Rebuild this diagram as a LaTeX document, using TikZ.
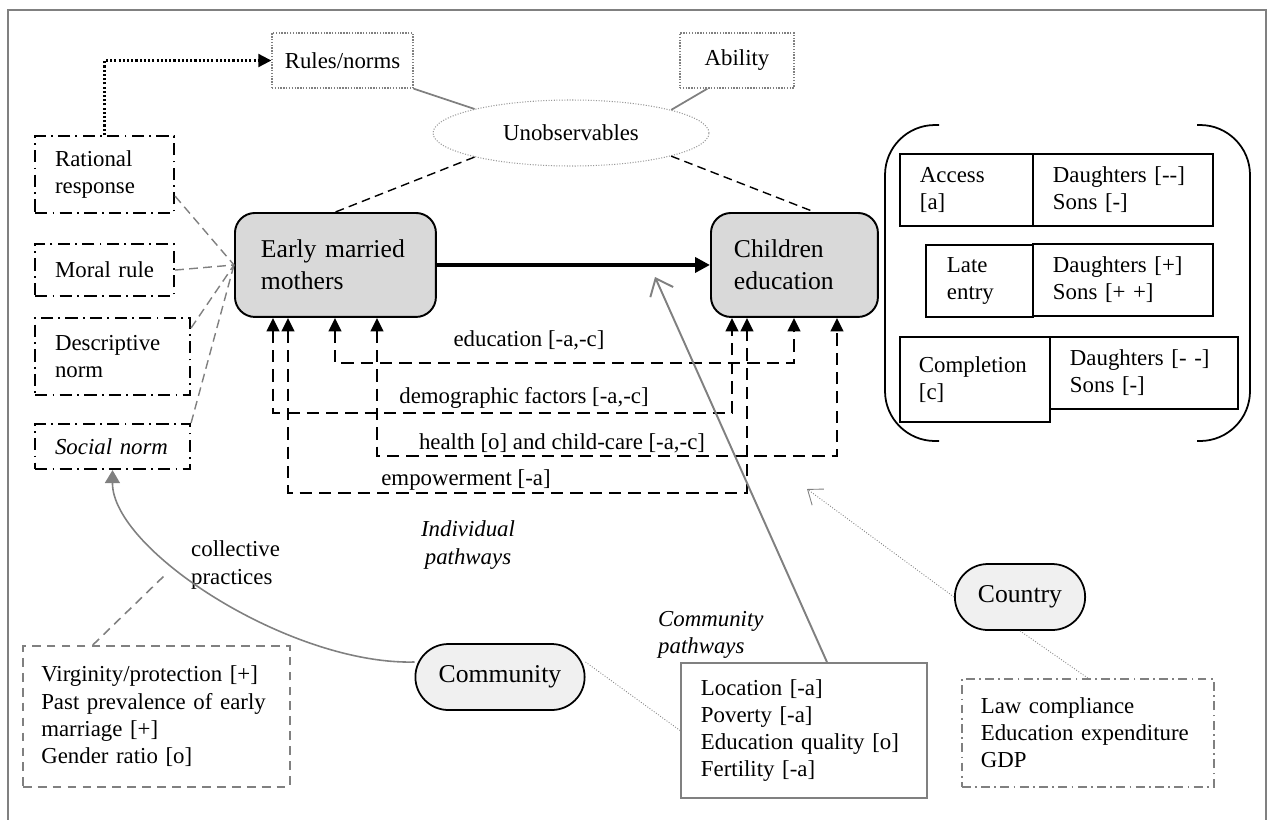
\documentclass[tikz,border=0pt]{standalone}
\usepackage{fontspec}
\setmainfont{Liberation Serif}
\usepackage{tikz}
\usetikzlibrary{arrows.meta,shapes.geometric,shapes.misc}
\newcommand{\basefont}{\fontsize{13}{15.5}\selectfont}
\newcommand{\bigfont}{\fontsize{14.6}{18}\selectfont}

\begin{document}
\begin{tikzpicture}[x=0.02cm,y=-0.02cm]
			\tikzstyle{every node}=[font=\basefont]
			\tikzstyle{dotbox}=[draw=gray,line width=0.8pt,dash pattern=on 0.8pt off 0.8pt,minimum height=1.1cm,inner sep=0pt]
			\tikzstyle{normbox}=[draw,line width=1.2pt,dash pattern=on 7pt off 3pt on 1pt off 3pt,anchor=north west,align=left,inner xsep=0.4cm,inner ysep=0pt]
			\tikzstyle{mainbox}=[draw,line width=1.1pt,rounded corners=0.4cm,fill=black!15,anchor=north west,align=left,font=\bigfont,inner xsep=0.52cm,minimum height=2.08cm]
			\tikzstyle{outbox}=[draw,line width=1.1pt,anchor=north west,align=left,inner xsep=0.4cm,inner ysep=0pt,minimum height=1.44cm]
			\tikzstyle{pillnode}=[draw,line width=1pt,rounded rectangle,fill=black!6,font=\bigfont,minimum height=1.32cm]
			\tikzstyle{route}=[line width=1.5pt,dash pattern=on 7pt off 4pt,{Triangle[length=0.27cm,width=0.25cm]}-{Triangle[length=0.27cm,width=0.25cm]}]
			\tikzstyle{normlink}=[draw=gray,line width=0.8pt,dash pattern=on 5pt off 3pt]
			\tikzstyle{thinlink}=[gray,line width=0.5pt,dash pattern=on 0.5pt off 1pt]
			
			\useasboundingbox (0,0) rectangle (1270,819);
			\draw[gray,line width=1.4pt] (8,840) -- (8,10) -- (1266,10) -- (1266,840);
			
			\node[dotbox,minimum width=2.82cm] (rules) at (342.5,60.5) {Rules/norms};
			\node[dotbox,minimum width=2.28cm] (ability) at (737,60.5) {Ability};
			\node[ellipse,draw=gray!80,line width=0.6pt,dash pattern=on 0.6pt off 0.9pt,minimum width=5.52cm,minimum height=1.32cm,inner sep=0pt] (unobs) at (571,133) {Unobservables};
			
			\node[normbox,text width=1.98cm,minimum height=1.54cm] (rational) at (34,135) {Rational\\response};
			\node[normbox,text width=1.98cm,minimum height=1.04cm] (moral) at (34,243) {Moral rule};
			\node[normbox,text width=2.3cm,minimum height=1.54cm] (descr) at (34,317) {Descriptive\\norm};
			\node[normbox,text width=2.3cm,minimum height=0.9cm,font=\basefont\itshape] (social) at (34,423) {Social norm};
			
			\node[mainbox,text width=2.98cm] (mothers) at (234,212) {Early married\\mothers};
			\node[mainbox,text width=2.42cm,inner xsep=0.46cm] (children) at (710,212) {Children\\education};
			
			\node[outbox,text width=1.86cm] (access) at (899,153) {Access\\{[a]}};
			\node[outbox,text width=2.8cm] (accessval) at (1032,153) {Daughters [-{}-]\\Sons [-]};
			\node[outbox,text width=1.3cm,inner xsep=0.42cm] (late) at (925,244) {Late\\entry};
			\node[outbox,text width=2.8cm] (lateval) at (1032,243) {Daughters [+]\\Sons [+ +]};
			\node[outbox,text width=2.24cm,inner xsep=0.38cm,minimum height=1.7cm] (compl) at (899,336) {Completion\\{[c]}};
			\node[outbox,text width=2.96cm] (complval) at (1049,336) {Daughters [- -]\\Sons [-]};
			\draw[line width=1pt,rounded corners=1cm] (939,125) -| (885,441) -- (939,441);
			\draw[line width=1pt,rounded corners=1cm] (1197,125) -| (1250,441) -- (1197,441);
			
			\node[draw=gray,line width=0.9pt,dash pattern=on 5pt off 3.5pt,anchor=north west,align=left,text width=4.6cm,inner xsep=0.37cm,minimum height=2.82cm] (practices) at (22,645) {Virginity/protection [+]\\Past prevalence of early\\marriage [+]\\Gender ratio [o]};
			\node[pillnode,minimum width=3.62cm] (community) at (500,677) {Community};
			\node[pillnode,minimum width=2.84cm] (country) at (1020,597) {Country};
			\node[draw=gray,line width=1.1pt,anchor=north west,align=left,text width=4.12cm,inner xsep=0.4cm,minimum height=2.7cm] (factors) at (680,662) {Location [-a]\\Poverty [-a]\\Education quality [o]\\Fertility [-a]};
			\node[draw=gray,line width=0.9pt,dash pattern=on 5pt off 2.5pt on 1pt off 2.5pt,anchor=north west,align=left,text width=4.28cm,inner xsep=0.38cm,minimum height=2.16cm] (national) at (961,678) {Law compliance\\Education expenditure\\GDP};
			
			\node[anchor=west,align=left] (collp) at (185,565) {collective\\practices};
			\node[align=center,font=\basefont\itshape] (indiv) at (468,545) {Individual\\pathways};
			\node[anchor=west,align=left,font=\basefont\itshape] (commpath) at (652,635) {Community\\pathways};
			
			\node (edutxt) at (529,340) {education [-a,-c]};
			\node (demotxt) at (524,398) {demographic factors [-a,-c]};
			\node (healthtxt) at (562,443) {health [o] and child-care [-a,-c]};
			\node (emptxt) at (466,480) {empowerment [-a]};
			
			\draw[gray,line width=1pt] (rules.south east) -- (unobs.166);
			\draw[gray,line width=1pt] ([xshift=0.56cm]ability.south west) -- (unobs.13);
			\draw[line width=0.8pt,dash pattern=on 5pt off 3pt] (unobs.194) -- (mothers.north);
			\draw[line width=0.8pt,dash pattern=on 5pt off 3pt] (unobs.-13) -- ([xshift=0.4cm]children.north);
			\draw[line width=1.2pt,dash pattern=on 1.2pt off 1.2pt,-{Triangle[length=0.26cm,width=0.26cm]}] (rational.north) |- (rules.west);
			
			\draw[normlink] (rational.-17) -- (mothers.west);
			\draw[normlink] (moral.east) -- (mothers.west);
			\draw[normlink] (descr.20) -- (mothers.west);
			\draw[normlink] (social.north east) -- (mothers.west);
			
			\draw[line width=2.8pt,-{Triangle[length=0.3cm,width=0.3cm]}] (mothers.east) -- (children.west);
			
			\coordinate (edul) at (335,363);
			\coordinate (edur) at (794,363);
			\coordinate (demol) at (273,413);
			\coordinate (demor) at (732,413);
			\coordinate (healthl) at (377,456);
			\coordinate (healthr) at (837,456);
			\coordinate (empl) at (288,493);
			\coordinate (empr) at (747,493);
			\draw[route] (mothers.south -| edul) -- (edul) -- (edur) -- (children.south -| edur);
			\draw[route] (mothers.south -| demol) -- (demol) -- (demor) -- (children.south -| demor);
			\draw[route] (mothers.south -| healthl) -- (healthl) -- (healthr) -- (children.south -| healthr);
			\draw[route] (mothers.south -| empl) -- (empl) -- (empr) -- (children.south -| empr);
			
			\coordinate (commtip) at (655,277);
			\coordinate (countrytip) at (807,489);
			\draw[gray,line width=1.1pt,-{Straight Barb[length=0.3cm,width=0.5cm]}] ([xshift=0.46cm]factors.north) -- (commtip);
			\draw[thinlink,-{Straight Barb[length=0.26cm,width=0.4cm]}] (country.west) -- (countrytip);
			\draw[thinlink] ([yshift=0.3cm]community.east) -- (factors.west);
			\draw[thinlink] (country.south) -- (national.north);
			\draw[gray,line width=0.9pt,-{Triangle[length=0.26cm,width=0.3cm]}] ([yshift=0.3cm]community.west) .. controls (290,665) and (112,550) .. (social.south);
			\draw[gray,line width=0.9pt,dash pattern=on 5pt off 3.5pt] ([xshift=-1.27cm]practices.north) -- ([shift={(-0.4cm,-0.2cm)}]collp.west);
\end{tikzpicture}
\end{document}
